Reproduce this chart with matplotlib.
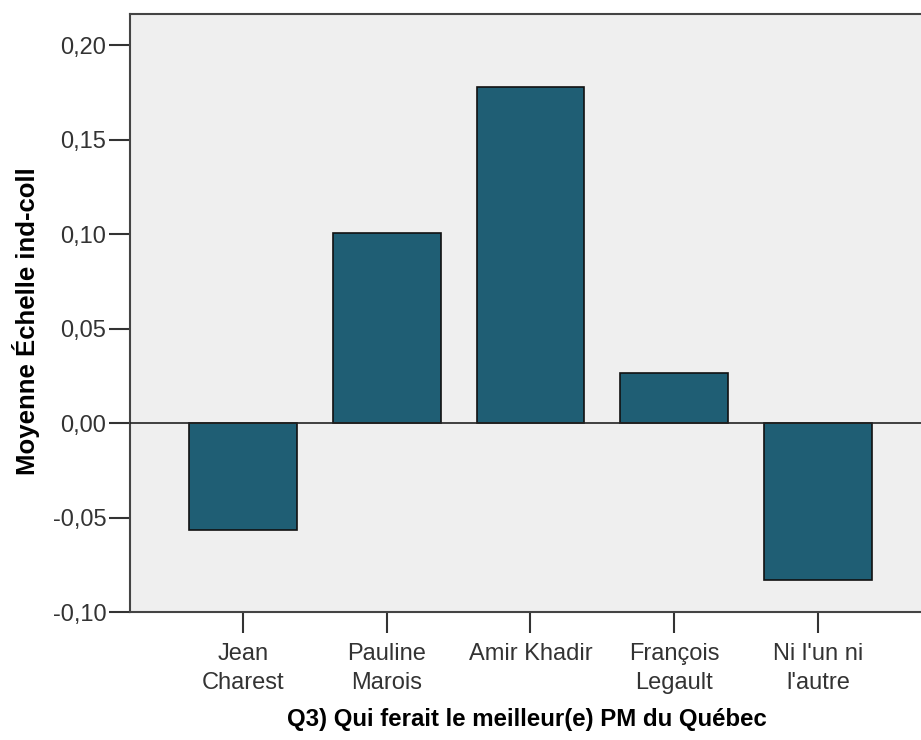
import matplotlib
matplotlib.use("Agg")
import matplotlib.pyplot as plt
from matplotlib.ticker import FuncFormatter

# Data
categories = ["Jean\nCharest", "Pauline\nMarois", "Amir Khadir", "François\nLegault", "Ni l'un ni\nl'autre"]
means = [-0.0565, 0.1008, 0.1778, 0.0264, -0.0829]
yticks = [-0.10, -0.05, 0.00, 0.05, 0.10, 0.15, 0.20]

plt.rcParams["font.family"] = ["Liberation Sans", "DejaVu Sans"]

W, H = 921, 740
AX_W = W - 130 + 9.2
fig = plt.figure(figsize=(W / 100, H / 100), dpi=100)
ax = fig.add_axes([130 / W, 1 - 612 / H, AX_W / W, (612 - 14) / H])

x = list(range(len(categories)))
ax.bar(x, means, width=0.75, color="#1f5e74", edgecolor="#111111", linewidth=1.2, zorder=3)
ax.axhline(0, color="#222222", linewidth=1.2, zorder=4)

ax.set_facecolor("#efefef")
ax.set_xlim(-0.785, 4.71 + 0.07)
ax.set_ylim(-0.10, 0.2165)

ax.set_xticks(x)
ax.set_xticklabels(categories, fontsize=17, color="#333333", linespacing=1.45)
ax.set_yticks(yticks)
ax.yaxis.set_major_formatter(FuncFormatter(lambda v, p: f"{v:.2f}".replace(".", ",")))
ax.tick_params(axis="y", labelsize=17, colors="#333333", length=15, width=1.5, pad=2)
ax.tick_params(axis="x", length=15, width=1.5, pad=7, colors="#333333")

for s in ax.spines.values():
    s.set_color("#444444")
    s.set_linewidth(1.5)

ax.set_ylabel("Moyenne Échelle ind-coll", fontsize=18.5, fontweight="bold")
ax.yaxis.set_label_coords((40 - 130) / AX_W, (612 - 321) / (612 - 14))
ax.set_xlabel("Q3) Qui ferait le meilleur(e) PM du Québec", fontsize=17.3, fontweight="bold")
ax.xaxis.set_label_coords((527 - 130) / AX_W, -(708 - 612) / (612 - 14))

fig.savefig("out.png", dpi=100)
